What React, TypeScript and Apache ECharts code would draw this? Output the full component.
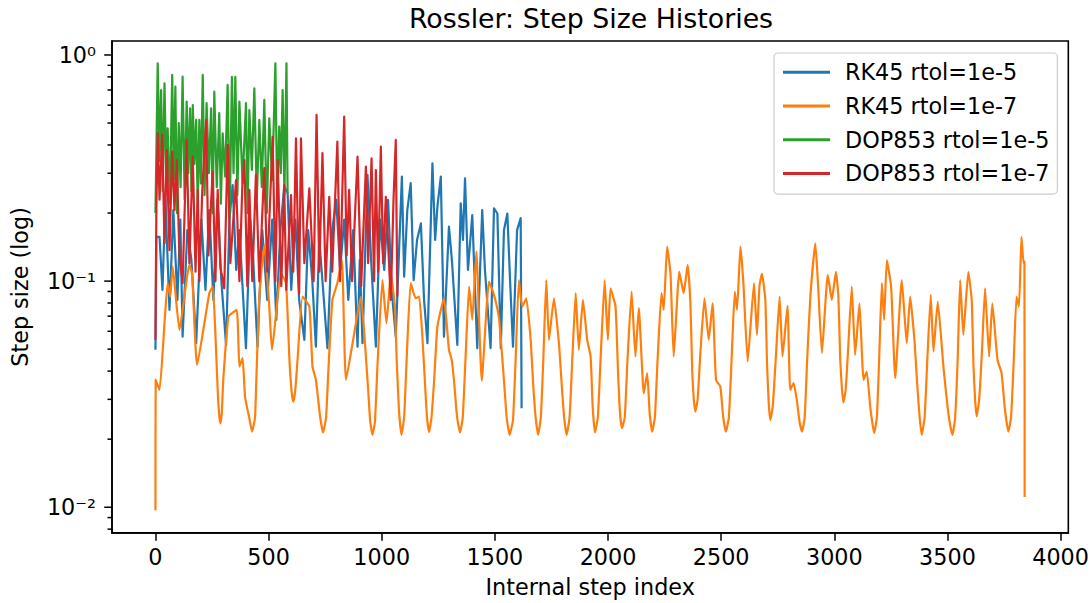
import React, { useEffect, useRef } from "react";
import * as echarts from "echarts";

// ---------- data ----------
const seriesNames = ["RK45 rtol=1e-5", "RK45 rtol=1e-7", "DOP853 rtol=1e-5", "DOP853 rtol=1e-7"];
const seriesColors = ["#1f77b4", "#ff7f0e", "#2ca02c", "#d62728"];

const xTickValues = [0, 500, 1000, 1500, 2000, 2500, 3000, 3500, 4000];
const yMajorTicks = [0.01, 0.1, 1];
const yMinorTicks = [0.008, 0.009, 0.02, 0.03, 0.04, 0.05, 0.06, 0.07, 0.08, 0.09, 0.2, 0.3, 0.4, 0.5, 0.6, 0.7, 0.8, 0.9];

const rk45Tol5Steps = [0,4,18,31,44,62,79,97,110,120,141,159,180,203,221,238,256,274,291,312,327,341,357,371,400,419,432,451,472,494,516,534,552,569,584,600,618,635,658,675,693,709,724,741,760,781,799,816,834,852,874,893,903,915,937,953,974,993,1011,1028,1044,1062,1089,1099,1113,1128,1141,1156,1173,1187,1202,1224,1236,1246,1261,1275,1297,1310,1334,1349,1359,1368,1381,1400,1422,1444,1456,1481,1496,1511,1526,1540,1555,1567,1580,1598,1614,1618];
const rk45Tol5Values = [0.0497,0.157,0.157,0.0914,0.229,0.0746,0.206,0.0826,0.187,0.0568,0.168,0.124,0.0531,0.187,0.0914,0.206,0.0826,0.229,0.101,0.0522,0.187,0.266,0.112,0.168,0.0505,0.187,0.124,0.0513,0.168,0.0826,0.187,0.0674,0.168,0.262,0.245,0.0914,0.187,0.0826,0.055,0.168,0.101,0.0513,0.152,0.0914,0.0505,0.168,0.229,0.112,0.187,0.0826,0.168,0.0513,0.124,0.0531,0.295,0.124,0.0513,0.187,0.112,0.229,0.0914,0.0568,0.29,0.1047,0.206,0.271,0.101,0.152,0.18,0.0826,0.0531,0.332,0.152,0.2135,0.29,0.0568,0.174,0.124,0.0522,0.221,0.152,0.285,0.112,0.196,0.0505,0.206,0.112,0.0505,0.21,0.199,0.0505,0.168,0.199,0.101,0.0513,0.168,0.19,0.0274];

const rk45Tol7Steps = [0,1,18,40,54,65,76,106,150,162,184,238,253,263,287,323,359,371,385,396,427,459,481,503,515,555,577,609,650,680,694,709,741,782,804,824,842,886,908,927,959,1003,1021,1040,1058,1087,1128,1150,1165,1180,1209,1246,1275,1297,1309,1319,1346,1386,1400,1418,1442,1474,1496,1518,1565,1606,1621,1639,1658,1691,1727,1739,1761,1783,1817,1857,1871,1889,1908,1923,1942,1985,1999,2011,2033,2062,2104,2121,2136,2158,2173,2195,2236,2246,2261,2276,2290,2315,2334,2352,2364,2386,2426,2445,2462,2477,2496,2521,2560,2570,2585,2592,2599,2617,2645,2658,2669,2680,2695,2717,2758,2771,2793,2805,2820,2834,2857,2894,2916,2927,2945,2971,2989,3007,3018,3040,3077,3092,3111,3129,3143,3176,3210,3220,3232,3251,3269,3298,3320,3335,3354,3386,3426,3438,3457,3482,3522,3556,3570,3592,3607,3629,3666,3684,3698,3721,3739,3769,3805,3816,3827,3836,3840,3841];
const rk45Tol7Values = [0.0097,0.0366,0.033,0.0653,0.098,0.0854,0.116,0.0608,0.118,0.108,0.0426,0.0884,0.0946,0.0651,0.0235,0.0697,0.0746,0.0419,0.0456,0.0308,0.0216,0.0854,0.1445,0.0771,0.0497,0.108,0.098,0.0292,0.0854,0.0771,0.0419,0.0366,0.0214,0.0826,0.098,0.124,0.0366,0.0651,0.0854,0.0513,0.0209,0.101,0.0651,0.108,0.0771,0.0209,0.098,0.084,0.0854,0.0559,0.0215,0.0629,0.084,0.0497,0.0449,0.0366,0.0214,0.0946,0.0674,0.135,0.0363,0.0995,0.0869,0.0686,0.0209,0.101,0.0771,0.084,0.055,0.0209,0.101,0.055,0.084,0.0531,0.0209,0.0884,0.0497,0.0826,0.055,0.0464,0.0214,0.101,0.055,0.093,0.0771,0.0224,0.0899,0.0464,0.0759,0.0319,0.0392,0.0216,0.0884,0.0746,0.142,0.108,0.0464,0.11,0.0884,0.118,0.0798,0.0265,0.084,0.055,0.0798,0.0366,0.0342,0.0216,0.0899,0.0746,0.142,0.12,0.0946,0.0441,0.098,0.0578,0.0946,0.108,0.0826,0.0243,0.0854,0.0464,0.0777,0.033,0.0354,0.0299,0.0216,0.0854,0.147,0.101,0.048,0.1066,0.0826,0.11,0.0854,0.029,0.0946,0.0472,0.0798,0.0366,0.0398,0.0213,0.098,0.0674,0.124,0.0946,0.0372,0.101,0.0531,0.0854,0.055,0.0209,0.0869,0.0488,0.0812,0.0419,0.0209,0.101,0.0578,0.11,0.0826,0.0252,0.093,0.0464,0.0798,0.0449,0.0392,0.0216,0.0854,0.0771,0.157,0.12,0.122,0.0111];
// points read on the rounded walls of the RK45 rtol=1e-7 troughs
const rk45Tol7TroughSteps = [275,281,293,300,414,440,447,592,601,618,628,728,754,764,940,949,970,981,1066,1076,1099,1110,1192,1200,1220,1232,1333,1358,1370,1540,1552,1580,1592,1670,1680,1703,1714,1796,1806,1830,1842,1932,1955,1967,2044,2053,2074,2086,2184,2207,2219,2372,2379,2396,2408,2509,2534,2546,2703,2710,2728,2741,2846,2869,2880,3026,3033,3050,3061,3160,3188,3198,3367,3377,3399,3411,3500,3512,3534,3545,3615,3622,3640,3652,3754,3781,3793];
const rk45Tol7TroughValues = [0.033,0.026,0.026,0.037,0.025,0.025,0.04,0.045,0.033,0.033,0.045,0.025,0.025,0.04,0.033,0.024,0.024,0.042,0.045,0.027,0.025,0.045,0.034,0.025,0.025,0.037,0.025,0.025,0.045,0.0366,0.025,0.0243,0.046,0.034,0.025,0.025,0.045,0.034,0.025,0.025,0.045,0.028,0.025,0.045,0.04,0.026,0.025,0.045,0.026,0.025,0.045,0.04,0.03,0.03,0.048,0.025,0.025,0.045,0.042,0.029,0.028,0.045,0.024,0.025,0.045,0.045,0.034,0.033,0.05,0.027,0.025,0.045,0.034,0.025,0.025,0.045,0.028,0.023,0.025,0.045,0.042,0.03,0.03,0.048,0.027,0.025,0.045];

const dop853Tol5Steps = [0,10,18,25,32,40,47,54,64,74,81,88,95,103,111,120,129,138,145,153,159,165,172,180,187,194,201,209,217,226,236,246,253,260,271,282,289,297,308,319,328,338,345,353,362,371,385,400,407,415,426,437,448,459,470,481,492,503,516,530,538,547,554,562,570,579,584];
const dop853Tol5Values = [0.2,0.919,0.34,0.70,0.25,0.75,0.3,0.474,0.22,0.816,0.28,0.724,0.2,0.50,0.26,0.802,0.23,0.622,0.3,0.581,0.25,0.60,0.33,0.516,0.21,0.516,0.27,0.816,0.24,0.612,0.3,0.581,0.2,0.688,0.26,0.553,0.22,0.45,0.29,0.737,0.19,0.80,0.3,0.80,0.24,0.622,0.27,0.612,0.2,0.571,0.31,0.712,0.23,0.516,0.26,0.633,0.2,0.525,0.28,0.919,0.22,0.482,0.3,0.70,0.24,0.919,0.245];

const dop853Tol7Steps = [0,4,10,18,30,40,50,62,74,84,94,106,120,138,150,165,177,187,194,207,224,234,253,265,275,287,304,319,331,356,371,384,393,406,415,428,444,459,481,494,518,530,540,556,569,578,599,609,621,635,643,658,680,699,712,724,738,752,768,781,804,816,834,845,856,869,893,909,930,940,955,966,974,984,996,1006,1018,1040,1052,1062,1069];
const dop853Tol7Values = [0.055,0.206,0.451,0.229,0.443,0.147,0.38,0.137,0.374,0.206,0.343,0.13,0.098,0.421,0.12,0.355,0.11,0.253,0.1,0.253,0.516,0.13,0.305,0.1,0.253,0.115,0.093,0.4,0.12,0.28,0.1,0.266,0.343,0.095,0.253,0.1,0.295,0.1,0.316,0.11,0.435,0.1,0.343,0.095,0.266,0.0914,0.24,0.11,0.428,0.088,0.428,0.12,0.257,0.1,0.543,0.11,0.368,0.1,0.236,0.11,0.414,0.1,0.534,0.13,0.253,0.1,0.355,0.095,0.321,0.12,0.349,0.1,0.31,0.11,0.393,0.12,0.236,0.0826,0.229,0.421,0.0854];

// ---------- helpers ----------
const zip = (xs: number[], ys: number[]) => {
  const n = Math.min(xs.length, ys.length);
  const out: [number, number][] = [];
  for (let i = 0; i < n; i++) out.push([xs[i], ys[i]]);
  return out;
};
const mergeByStep = (a: [number, number][], b: [number, number][]) =>
  a.concat(b).sort((p, q) => p[0] - q[0]);

const SUP: Record<string, string> = {
  "0": "\u2070", "1": "\u00b9", "2": "\u00b2", "3": "\u00b3", "4": "\u2074",
  "5": "\u2075", "6": "\u2076", "7": "\u2077", "8": "\u2078", "9": "\u2079", "-": "\u207b",
};
const toSup = (s: string) => s.split("").map((c) => SUP[c] ?? c).join("");

const FONT = "DejaVu Sans";
const FS = 22.3;

export default function App() {
  const ref = useRef<HTMLDivElement>(null);

  useEffect(() => {
    document.body.style.margin = "0";
    if (!ref.current) return;
    const chart = echarts.init(ref.current, null, { renderer: "svg" });

    const lineSeries = (idx: number, data: [number, number][], smooth: number | boolean) => ({
      type: "line",
      name: seriesNames[idx],
      data,
      showSymbol: false,
      symbol: "none",
      smooth,
      clip: true,
      silent: true,
      color: seriesColors[idx],
      itemStyle: { color: seriesColors[idx] },
      lineStyle: { color: seriesColors[idx], width: 2.2, join: "round" },
      emphasis: { disabled: true },
      z: 2 + idx * 0.01,
    });

    const tickSeries = (values: number[], len: number) => ({
      type: "custom",
      name: "ticks" + len,
      silent: true,
      clip: false,
      z: 10,
      data: values.map((v) => [0, v]),
      renderItem: (params: any, api: any) => {
        const y = api.coord([api.value(0), api.value(1)])[1];
        const x = params.coordSys.x;
        return {
          type: "line",
          shape: { x1: x - len, y1: y, x2: x, y2: y },
          style: { stroke: "#000", lineWidth: 1.5 },
        };
      },
    });

    const orangeData = mergeByStep(
      zip(rk45Tol7Steps, rk45Tol7Values),
      zip(rk45Tol7TroughSteps, rk45Tol7TroughValues)
    );

    const option: any = {
      animation: false,
      backgroundColor: "#ffffff",
      grid: {
        left: 112,
        top: 41,
        right: 22,
        bottom: 70,
        show: true,
        borderColor: "#000",
        borderWidth: 1.6,
        backgroundColor: "transparent",
        containLabel: false,
      },
      graphic: [
        {
          type: "text",
          x: 591,
          y: 18,
          style: {
            text: "Rossler: Step Size Histories",
            fontSize: 26.8,
            fontFamily: FONT,
            fill: "#000",
            textAlign: "center",
            textVerticalAlign: "middle",
          },
        },
      ],
      legend: {
        data: seriesNames,
        orient: "vertical",
        left: 774,
        top: 53,
        padding: [8.2, 8, 9.5, 9],
        itemGap: 11.4,
        itemWidth: 47,
        itemHeight: 3,
        icon: "rect",
        backgroundColor: "rgba(255,255,255,0.8)",
        borderColor: "#cccccc",
        borderWidth: 1.2,
        borderRadius: 4,
        selectedMode: false,
        textStyle: {
          fontSize: FS,
          fontFamily: FONT,
          color: "#000",
          lineHeight: 22.3,
          padding: [0, 0, 0, 10],
        },
      },
      xAxis: {
        type: "value",
        min: -192,
        max: 4034,
        splitLine: { show: false },
        axisLine: { show: true, onZero: false, lineStyle: { color: "#000", width: 1.6 } },
        axisTick: { show: true, length: 7.8, customValues: xTickValues, lineStyle: { color: "#000", width: 1.5 } },
        axisLabel: {
          customValues: xTickValues,
          formatter: (v: number) => String(v),
          margin: 12.9,
          fontSize: FS,
          lineHeight: 22.3,
          fontFamily: FONT,
          color: "#000",
        },
        name: "Internal step index",
        nameLocation: "middle",
        nameGap: 42.8,
        nameTextStyle: { fontSize: FS, fontFamily: FONT, color: "#000", lineHeight: 22.3 },
      },
      yAxis: {
        type: "log",
        logBase: 10,
        min: 0.0077,
        max: 1.153,
        splitLine: { show: false },
        axisLine: { show: true, onZero: false, lineStyle: { color: "#000", width: 1.6 } },
        axisTick: { show: false },
        minorTick: { show: false },
        axisLabel: {
          margin: 16,
          showMinLabel: false,
          showMaxLabel: false,
          fontSize: FS,
          lineHeight: 22.3,
          padding: [7, 0, 0, 0],
          fontFamily: FONT,
          color: "#000",
          formatter: (v: number) => {
            const e = Math.round(Math.log10(v));
            return "10" + toSup(String(e));
          },
        },
        name: "Step size (log)",
        nameLocation: "middle",
        nameGap: 81,
        nameTextStyle: { fontSize: FS, fontFamily: FONT, color: "#000", lineHeight: 22.3 },
      },
      series: [
        lineSeries(0, zip(rk45Tol5Steps, rk45Tol5Values), false),
        lineSeries(1, orangeData, 0.15),
        lineSeries(2, zip(dop853Tol5Steps, dop853Tol5Values), false),
        lineSeries(3, zip(dop853Tol7Steps, dop853Tol7Values), false),
        tickSeries(yMajorTicks, 7.8),
        tickSeries(yMinorTicks, 4.5),
      ],
    };

    chart.setOption(option);
    return () => chart.dispose();
  }, []);

  return <div ref={ref} style={{ width: 1092, height: 603 }} />;
}
